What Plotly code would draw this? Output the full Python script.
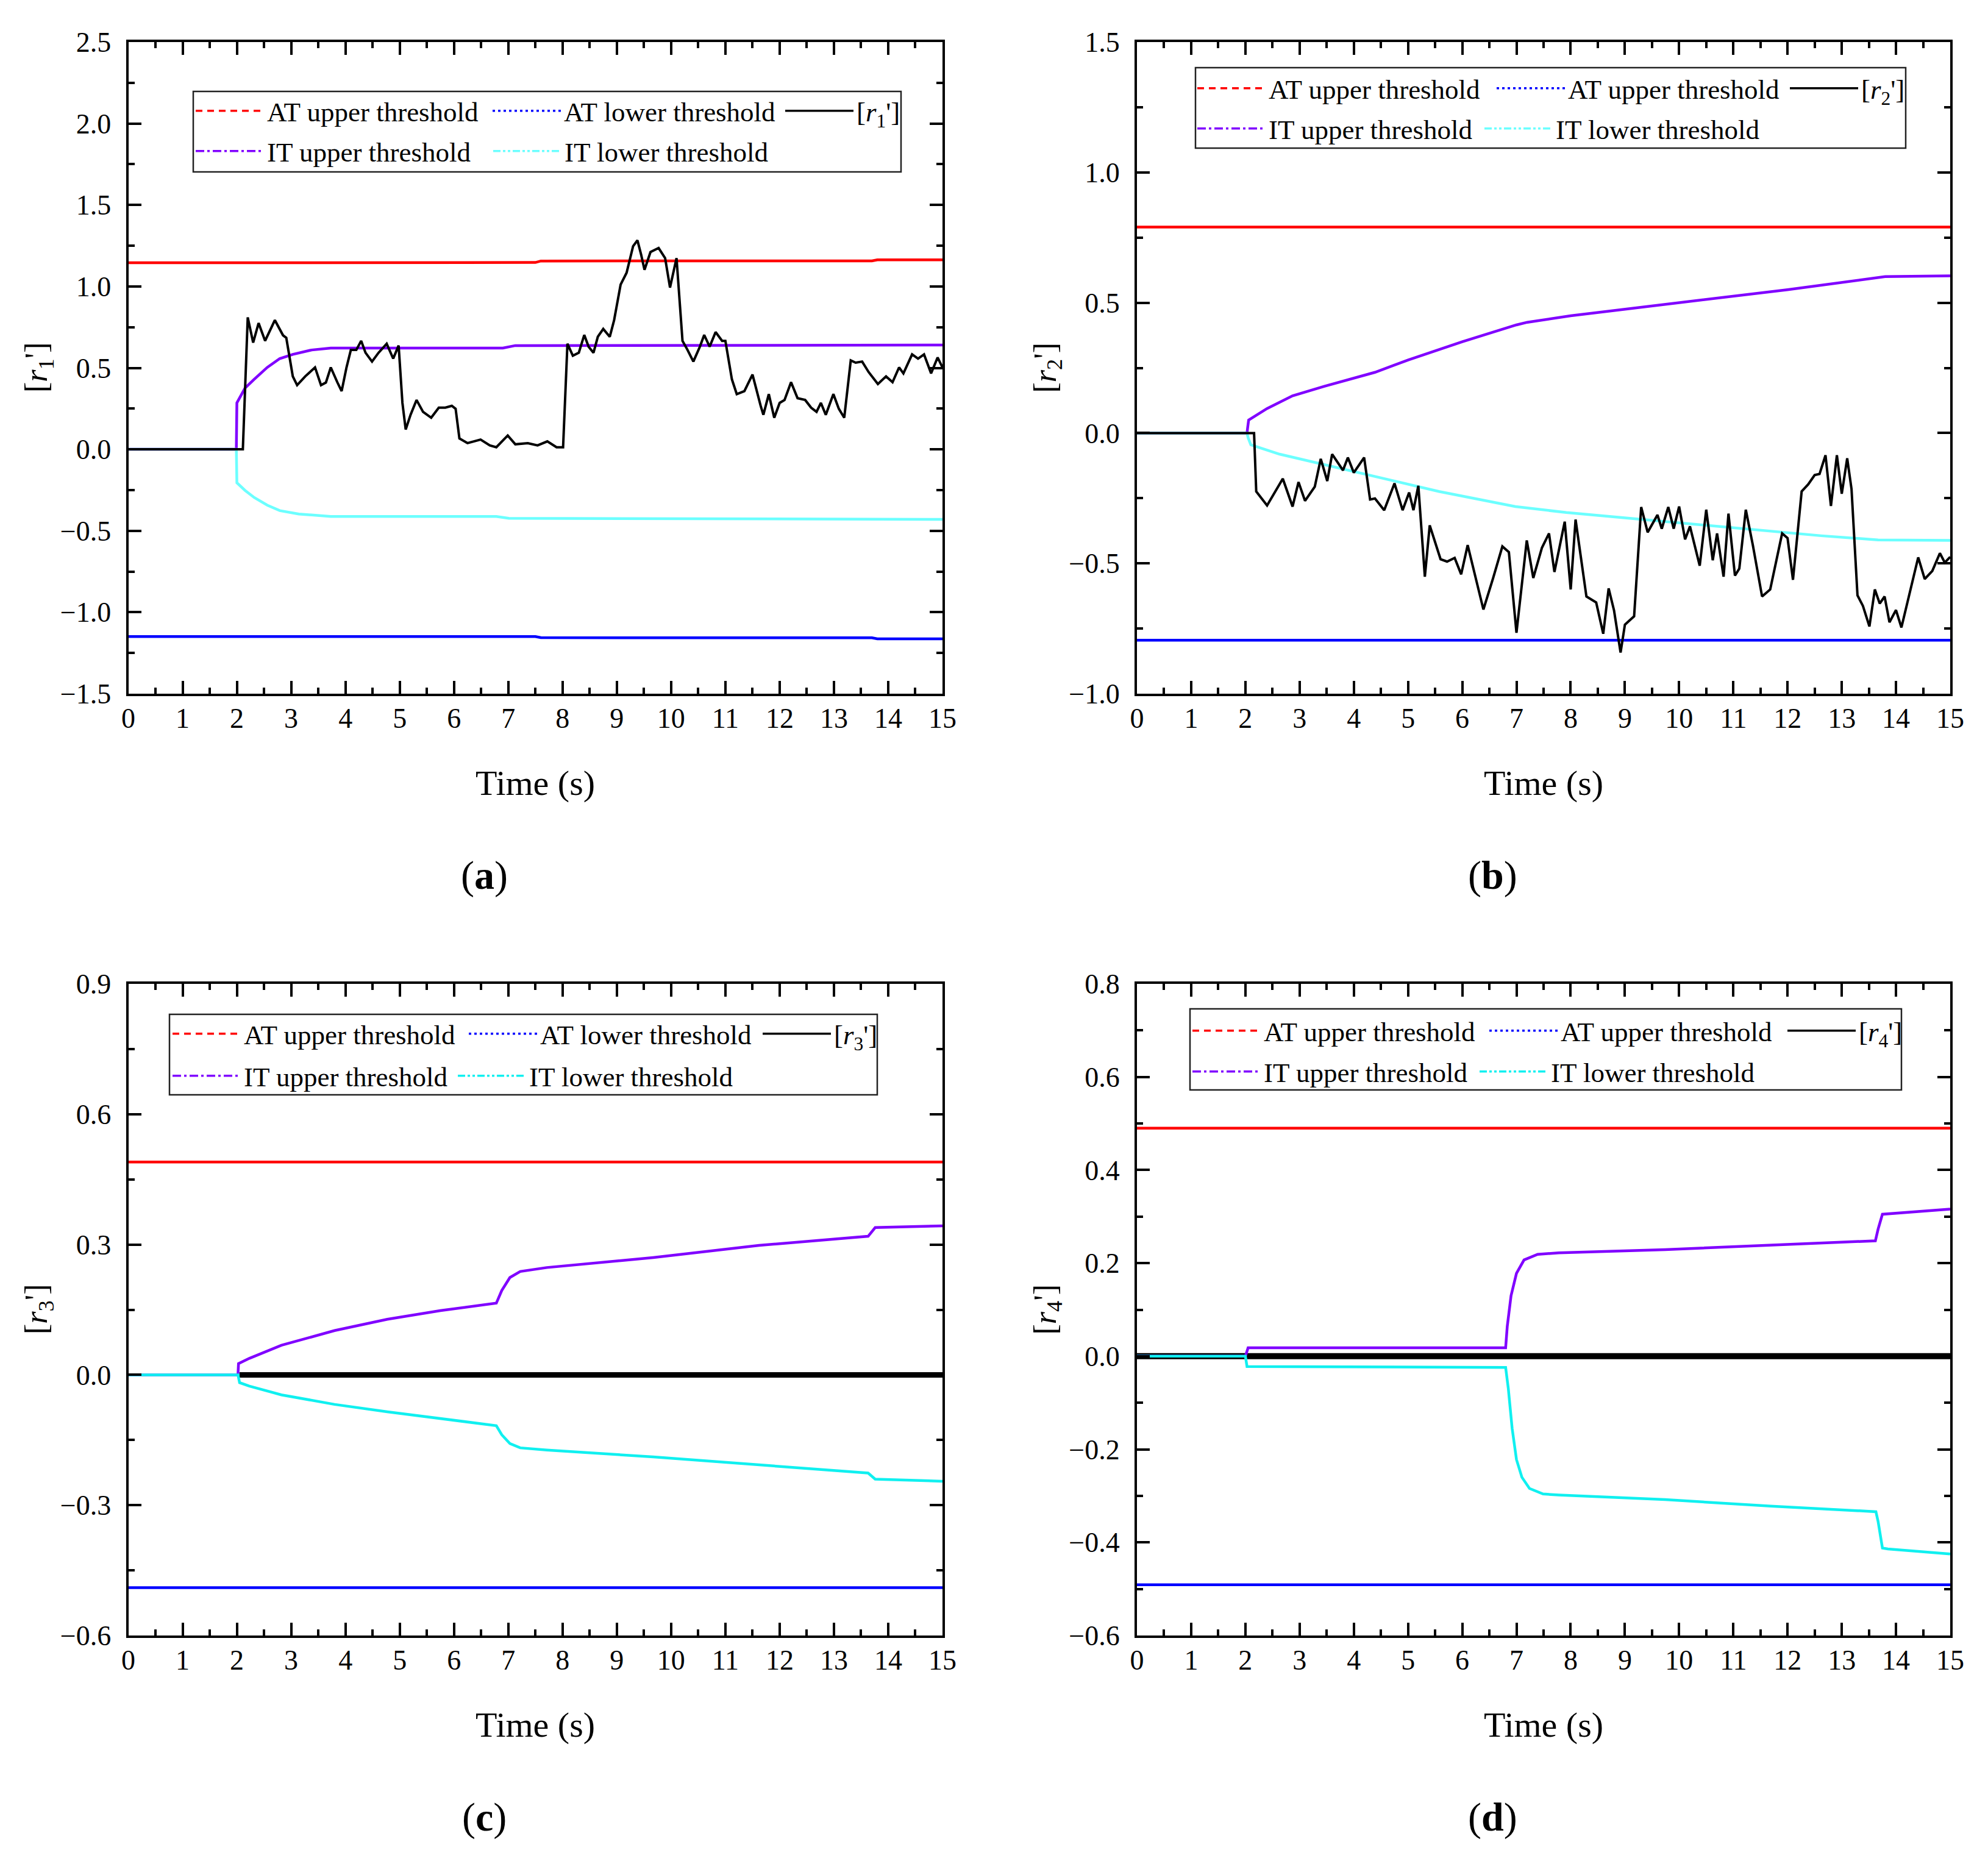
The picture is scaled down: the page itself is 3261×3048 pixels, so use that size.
import plotly.graph_objects as go

PAGE_W, PAGE_H = 3261, 3048
BODY = 8  # browser default body margin around the figure
FIG_W, FIG_H = PAGE_W - 2 * BODY, PAGE_H - 2 * BODY

# ---------------- data ----------------
# panel (a)
a_r_t = [0, 2.09, 2.11, 2.2, 2.3, 2.4, 2.52, 2.7, 2.85, 2.91, 3.03, 3.11, 3.26, 3.44, 3.55, 3.64, 3.73, 3.85,
         3.93, 4.02, 4.1, 4.2, 4.29, 4.37, 4.49, 4.61, 4.76, 4.88, 4.98, 5.05, 5.11, 5.2, 5.31, 5.43, 5.58,
         5.72, 5.84, 5.96, 6.03, 6.1, 6.25, 6.49, 6.66, 6.78, 6.99, 7.13, 7.36, 7.54, 7.72, 7.89, 8.01, 8.09,
         8.19, 8.3, 8.4, 8.48, 8.57, 8.65, 8.75, 8.87, 8.95, 9.07, 9.18, 9.3, 9.38, 9.45, 9.51, 9.62, 9.77,
         9.89, 9.98, 10.1, 10.21, 10.3, 10.41, 10.53, 10.61, 10.71, 10.82, 10.94, 11.0, 11.12, 11.21, 11.35,
         11.5, 11.65, 11.7, 11.8, 11.9, 12.0, 12.09, 12.21, 12.33, 12.47, 12.58, 12.68, 12.76, 12.85, 12.99,
         13.09, 13.19, 13.31, 13.4, 13.52, 13.64, 13.81, 13.96, 14.08, 14.2, 14.28, 14.44, 14.55, 14.66,
         14.79, 14.91, 15.0]
a_r_v = [0, 0, 0.0, 0.81, 0.655, 0.775, 0.666, 0.793, 0.70, 0.685, 0.448, 0.394, 0.448, 0.503, 0.394, 0.41,
         0.503, 0.412, 0.357, 0.503, 0.61, 0.61, 0.666, 0.593, 0.539, 0.593, 0.648, 0.557, 0.637, 0.285,
         0.122, 0.212, 0.303, 0.23, 0.194, 0.256, 0.256, 0.267, 0.249, 0.067, 0.038, 0.06, 0.024, 0.013,
         0.085, 0.031, 0.038, 0.024, 0.049, 0.013, 0.013, 0.648, 0.575, 0.593, 0.702, 0.63, 0.593, 0.691,
         0.739, 0.691, 0.793, 1.011, 1.084, 1.247, 1.283, 1.192, 1.102, 1.211, 1.236, 1.174, 0.993, 1.174,
         0.666, 0.612, 0.539, 0.63, 0.702, 0.63, 0.72, 0.666, 0.666, 0.43, 0.339, 0.357, 0.459, 0.267,
         0.212, 0.339, 0.194, 0.285, 0.303, 0.412, 0.314, 0.303, 0.256, 0.23, 0.285, 0.212, 0.339, 0.249,
         0.194, 0.546, 0.532, 0.539, 0.474, 0.401, 0.448, 0.412, 0.503, 0.466, 0.583, 0.557, 0.583, 0.466,
         0.564, 0.503]
a_atu_t = [0, 7.5, 7.6, 13.7, 13.8, 15]
a_atu_v = [1.145, 1.147, 1.156, 1.157, 1.163, 1.163]
a_atl_t = [0, 7.5, 7.6, 13.7, 13.8, 15]
a_atl_v = [-1.149, -1.149, -1.156, -1.157, -1.163, -1.163]
a_itu_t = [0, 1.99, 2.0, 2.15, 2.32, 2.56, 2.79, 3.03, 3.38, 3.73, 4.2, 6.9, 7.13, 15]
a_itu_v = [0, 0, 0.285, 0.376, 0.43, 0.503, 0.557, 0.583, 0.61, 0.622, 0.622, 0.622, 0.637, 0.64]
a_itl_t = [0, 1.99, 2.0, 2.15, 2.32, 2.56, 2.79, 3.14, 3.73, 6.78, 7.01, 15]
a_itl_v = [0, 0, -0.205, -0.252, -0.296, -0.343, -0.376, -0.397, -0.412, -0.412, -0.423, -0.43]

# panel (b)
b_r_t = [0, 2.16, 2.2, 2.4, 2.69, 2.87, 2.98, 3.1, 3.28, 3.39, 3.51, 3.6, 3.8, 3.89, 4.0, 4.19, 4.3, 4.39,
         4.56, 4.75, 4.9, 5.02, 5.1, 5.19, 5.31, 5.4, 5.6, 5.72, 5.86, 5.98, 6.1, 6.24, 6.39, 6.57, 6.74,
         6.86, 7.0, 7.19, 7.31, 7.47, 7.6, 7.7, 7.89, 8.0, 8.09, 8.29, 8.47, 8.6, 8.7, 8.8, 8.92, 9.0, 9.17,
         9.3, 9.42, 9.6, 9.68, 9.8, 9.9, 10.0, 10.11, 10.2, 10.38, 10.5, 10.62, 10.7, 10.82, 10.91, 11.03,
         11.11, 11.23, 11.36, 11.53, 11.68, 11.9, 12.0, 12.1, 12.26, 12.38, 12.5, 12.59, 12.7, 12.8, 12.91,
         13.0, 13.1, 13.18, 13.29, 13.39, 13.51, 13.61, 13.7, 13.79, 13.88, 14.0, 14.1, 14.32, 14.41, 14.53,
         14.67, 14.81, 14.9, 15.0]
b_r_v = [0, 0, -0.224, -0.278, -0.175, -0.282, -0.188, -0.26, -0.206, -0.099, -0.184, -0.081, -0.143,
         -0.094, -0.152, -0.094, -0.255, -0.251, -0.296, -0.193, -0.296, -0.228, -0.296, -0.202, -0.551,
         -0.354, -0.484, -0.493, -0.479, -0.542, -0.43, -0.551, -0.677, -0.556, -0.435, -0.457, -0.766,
         -0.412, -0.556, -0.44, -0.385, -0.533, -0.34, -0.6, -0.332, -0.627, -0.65, -0.77, -0.596, -0.681,
         -0.842, -0.735, -0.703, -0.284, -0.381, -0.314, -0.367, -0.284, -0.367, -0.282, -0.408, -0.358,
         -0.509, -0.294, -0.488, -0.385, -0.551, -0.309, -0.547, -0.52, -0.294, -0.43, -0.627, -0.6, -0.385,
         -0.403, -0.563, -0.224, -0.197, -0.161, -0.157, -0.085, -0.28, -0.085, -0.233, -0.097, -0.215,
         -0.623, -0.663, -0.742, -0.6, -0.654, -0.627, -0.726, -0.679, -0.746, -0.551, -0.477, -0.56,
         -0.529, -0.461, -0.497, -0.475]
b_atu_t = [0, 15]
b_atu_v = [0.79, 0.79]
b_atl_t = [0, 15]
b_atl_v = [-0.795, -0.795]
b_itu_t = [0, 2.03, 2.04, 2.06, 2.4, 2.87, 3.45, 4.0, 4.39, 5.0, 6.0, 7.0, 7.2, 8.0, 10.0, 12.0, 13.8, 15.0]
b_itu_v = [0, 0, 0.018, 0.05, 0.094, 0.143, 0.179, 0.21, 0.233, 0.28, 0.35, 0.415, 0.425, 0.45, 0.5,
           0.55, 0.6, 0.603]
b_itl_t = [0, 2.03, 2.05, 2.1, 2.63, 3.45, 4.39, 5.57, 6.98, 7.92, 9.09, 10.27, 11.44, 12.62, 13.67, 15.0]
b_itl_v = [0, 0, -0.018, -0.045, -0.081, -0.121, -0.166, -0.224, -0.282, -0.305, -0.327, -0.35, -0.372,
           -0.394, -0.41, -0.412]

# panel (c)
c_r_t = [2.05, 15.0]
c_r_v = [0.0, 0.0]
c_atu_t = [0, 15]
c_atu_v = [0.49, 0.49]
c_atl_t = [0, 15]
c_atl_v = [-0.49, -0.49]
c_itu_t = [0, 2.02, 2.03, 2.23, 2.82, 3.8, 4.77, 5.75, 6.78, 6.88, 7.03, 7.22, 7.71, 9.67, 11.62, 13.58,
           13.63, 13.76, 15.0]
c_itu_v = [0, 0, 0.026, 0.038, 0.068, 0.102, 0.128, 0.148, 0.165, 0.194, 0.224, 0.238, 0.247, 0.27,
           0.298, 0.318, 0.319, 0.339, 0.343]
c_itl_t = [0, 2.02, 2.05, 2.23, 2.82, 3.8, 4.77, 5.75, 6.78, 6.88, 7.03, 7.22, 7.71, 9.67, 11.62, 13.58,
           13.63, 13.76, 15.0]
c_itl_v = [0, 0, -0.018, -0.026, -0.046, -0.068, -0.085, -0.1, -0.117, -0.138, -0.158, -0.168, -0.173,
           -0.189, -0.207, -0.224, -0.226, -0.24, -0.245]

# panel (d)
d_r_t = [0, 15.0]
d_r_v = [0.0, 0.0]
d_atu_t = [0, 15]
d_atu_v = [0.49, 0.49]
d_atl_t = [0, 15]
d_atl_v = [-0.491, -0.491]
d_itu_t = [0, 2.0, 2.05, 6.8, 6.83, 6.9, 7.0, 7.14, 7.39, 7.78, 9.74, 11.69, 13.62, 13.67, 13.75, 15.0]
d_itu_v = [0, 0, 0.018, 0.018, 0.064, 0.13, 0.178, 0.207, 0.219, 0.222, 0.229, 0.238, 0.248, 0.273,
           0.305, 0.316]
d_itl_t = [0, 2.0, 2.03, 6.8, 6.85, 6.92, 7.0, 7.1, 7.24, 7.49, 7.78, 9.74, 11.69, 13.63, 13.67, 13.75,
           13.85, 15.0]
d_itl_v = [0, 0, -0.022, -0.024, -0.07, -0.155, -0.222, -0.26, -0.284, -0.296, -0.298, -0.308, -0.322,
           -0.334, -0.355, -0.412, -0.414, -0.425]

# axis settings per panel
y_ranges = {"a": [-1.5, 2.5], "b": [-1.0, 1.5], "c": [-0.6, 0.9], "d": [-0.6, 0.8]}
y_dticks = {"a": 0.5, "b": 0.5, "c": 0.3, "d": 0.2}
y_minor = {"a": 0.25, "b": 0.25, "c": 0.15, "d": 0.1}

legend_names = {
    "a": ["AT upper threshold", "AT lower threshold", "[<i>r</i><sub>1</sub>']",
          "IT upper threshold", "IT lower threshold"],
    "b": ["AT upper threshold", "AT upper threshold", "[<i>r</i><sub>2</sub>']",
          "IT upper threshold", "IT lower threshold"],
    "c": ["AT upper threshold", "AT lower threshold", "[<i>r</i><sub>3</sub>']",
          "IT upper threshold", "IT lower threshold"],
    "d": ["AT upper threshold", "AT upper threshold", "[<i>r</i><sub>4</sub>']",
          "IT upper threshold", "IT lower threshold"],
}
y_titles = {"a": "[<i>r</i><sub>1</sub>']", "b": "[<i>r</i><sub>2</sub>']",
            "c": "[<i>r</i><sub>3</sub>']", "d": "[<i>r</i><sub>4</sub>']"}
panel_labels = {"a": "(<b>a</b>)", "b": "(<b>b</b>)", "c": "(<b>c</b>)", "d": "(<b>d</b>)"}

series = {
    "a": dict(r=(a_r_t, a_r_v), atu=(a_atu_t, a_atu_v), atl=(a_atl_t, a_atl_v),
              itu=(a_itu_t, a_itu_v), itl=(a_itl_t, a_itl_v)),
    "b": dict(r=(b_r_t, b_r_v), atu=(b_atu_t, b_atu_v), atl=(b_atl_t, b_atl_v),
              itu=(b_itu_t, b_itu_v), itl=(b_itl_t, b_itl_v)),
    "c": dict(r=(c_r_t, c_r_v), atu=(c_atu_t, c_atu_v), atl=(c_atl_t, c_atl_v),
              itu=(c_itu_t, c_itu_v), itl=(c_itl_t, c_itl_v)),
    "d": dict(r=(d_r_t, d_r_v), atu=(d_atu_t, d_atu_v), atl=(d_atl_t, d_atl_v),
              itu=(d_itu_t, d_itu_v), itl=(d_itl_t, d_itl_v)),
}

# ---------------- layout geometry (page pixels) ----------------
def px(x):
    return (x - BODY) / FIG_W


def py(y):
    return 1 - (y - BODY) / FIG_H


panel_box = {  # plot area left, right, top, bottom in page pixels
    "a": (210.5, 1546, 69, 1138), "b": (1865, 3199, 69, 1138),
    "c": (210.5, 1546, 1614, 2683), "d": (1865, 3199, 1614, 2683),
}
axis_ids = {"a": ("x", "y"), "b": ("x2", "y2"), "c": ("x3", "y3"), "d": ("x4", "y4")}

leg_geom = {
    "a": dict(x=321, y1=182, y2=248, w1=[360, 353, 70], w2=[361, 330], box=(317, 1478, 150, 282)),
    "b": dict(x=1964, y1=145, y2=211, w1=[364, 354, 70], w2=[344, 330], box=(1961, 3126, 111, 243)),
    "c": dict(x=283, y1=1696, y2=1765, w1=[359, 355, 70], w2=[341, 330], box=(278, 1439, 1664, 1796)),
    "d": dict(x=1956, y1=1691, y2=1758, w1=[360, 362, 70], w2=[344, 330], box=(1952, 3119, 1655, 1788)),
}
cyan_col = {"a": "#6CFFFF", "b": "#6CFFFF", "c": "#10F0F0", "d": "#10F0F0"}
black_w = {"a": 4, "b": 4, "c": 9, "d": 10}

FONT = "Liberation Serif"
fig = go.Figure()
legend_layouts = {}
annotations = []
shapes = []

leg_idx = 0
for p in ["a", "b", "c", "d"]:
    xa, ya = axis_ids[p]
    s = series[p]
    names = legend_names[p]
    order = ["atu", "atl", "itu", "itl", "r"] if p in ("a", "b") else ["atu", "atl", "r", "itu", "itl"]
    colors = {"atu": "#FF0000", "atl": "#0000FF", "r": "#000000", "itu": "#8000FF", "itl": cyan_col[p]}
    widths = {"atu": 4.5, "atl": 4.5, "r": black_w[p], "itu": 4.5, "itl": 4.5}
    for k in order:
        t, v = s[k]
        fig.add_trace(go.Scatter(x=t, y=v, mode="lines", xaxis=xa, yaxis=ya, showlegend=False,
                                 line=dict(color=colors[k], width=widths[k]), hoverinfo="skip"))
    g = leg_geom[p]
    leg1 = "legend" if leg_idx == 0 else f"legend{leg_idx + 1}"
    leg2 = f"legend{leg_idx + 2}"
    leg_idx += 2
    dashes = {"atu": "11px,8px", "atl": "4px,5px", "r": "solid",
              "itu": "14px,5px,4px,5px", "itl": "12px,4px,4px,4px,4px,4px"}
    row1 = [("atu", names[0]), ("atl", names[1]), ("r", names[2])]
    row2 = [("itu", names[3]), ("itl", names[4])]
    for keys, lg, wl in ((row1, leg1, g["w1"]), (row2, leg2, g["w2"])):
        for (k, nm), lw in zip(keys, wl):
            fig.add_trace(go.Scatter(x=[None], y=[None], mode="lines", xaxis=xa, yaxis=ya, name=nm,
                                     legend=lg, legendwidth=lw, showlegend=True,
                                     line=dict(color=colors[k], width=3.5, dash=dashes[k])))
    for lg, yy in ((leg1, g["y1"]), (leg2, g["y2"])):
        legend_layouts[lg] = dict(x=px(g["x"] - 5), y=py(yy), xanchor="left", yanchor="middle",
                                  orientation="h", bgcolor="rgba(0,0,0,0)", borderwidth=0,
                                  itemwidth=112, font=dict(family=FONT, size=45, color="black"),
                                  itemclick=False, itemdoubleclick=False)
    bx0, bx1, by0, by1 = g["box"]
    shapes.append(dict(type="rect", xref="paper", yref="paper", x0=px(bx0), x1=px(bx1),
                       y0=py(by1), y1=py(by0), line=dict(color="#222222", width=2.5), layer="above"))

    L, R, T, B = panel_box[p]
    cx = (L + R) / 2
    annotations.append(dict(text="Time (s)", x=px(cx), y=py(B + 146), xref="paper", yref="paper",
                            xanchor="center", yanchor="middle", showarrow=False,
                            font=dict(family=FONT, size=58, color="black")))
    annotations.append(dict(text=y_titles[p], x=px(L - 147), y=py((T + B) / 2), xref="paper",
                            yref="paper", xanchor="center", yanchor="middle", showarrow=False,
                            textangle=-90, font=dict(family=FONT, size=52, color="black")))
    annotations.append(dict(text=panel_labels[p], x=px(cx - 84), y=py(B + 298), xref="paper",
                            yref="paper", xanchor="center", yanchor="middle", showarrow=False,
                            font=dict(family=FONT, size=66, color="black")))

layout = dict(width=FIG_W, height=FIG_H, margin=dict(l=0, r=0, t=0, b=0, autoexpand=False),
              paper_bgcolor="white", plot_bgcolor="white", showlegend=True,
              annotations=annotations, shapes=shapes)
layout.update(legend_layouts)

tickfont = dict(family=FONT, size=46, color="black")
for p in ["a", "b", "c", "d"]:
    xa, ya = axis_ids[p]
    L, R, T, B = panel_box[p]
    xname = "xaxis" if xa == "x" else "xaxis" + xa[1:]
    yname = "yaxis" if ya == "y" else "yaxis" + ya[1:]
    common = dict(showline=True, linewidth=4, linecolor="black", mirror="ticks", ticks="inside",
                  ticklen=21, tickwidth=4, tickcolor="black", showgrid=False, zeroline=False,
                  tickfont=tickfont, automargin=False)
    layout[xname] = dict(domain=[px(L), px(R)], range=[0, 15], tick0=0, dtick=1, anchor=ya,
                         minor=dict(ticks="inside", dtick=0.5, ticklen=10, tickwidth=4,
                                    tickcolor="black", showgrid=False),
                         ticklabelstandoff=-3, **common)
    layout[yname] = dict(domain=[py(B), py(T)], range=y_ranges[p], tick0=0, dtick=y_dticks[p],
                         tickformat=".1f", anchor=xa,
                         minor=dict(ticks="inside", dtick=y_minor[p], ticklen=10, tickwidth=4,
                                    tickcolor="black", showgrid=False),
                         ticklabelstandoff=15, **common)

fig.update_layout(**layout)
fig.write_html("out.html")
